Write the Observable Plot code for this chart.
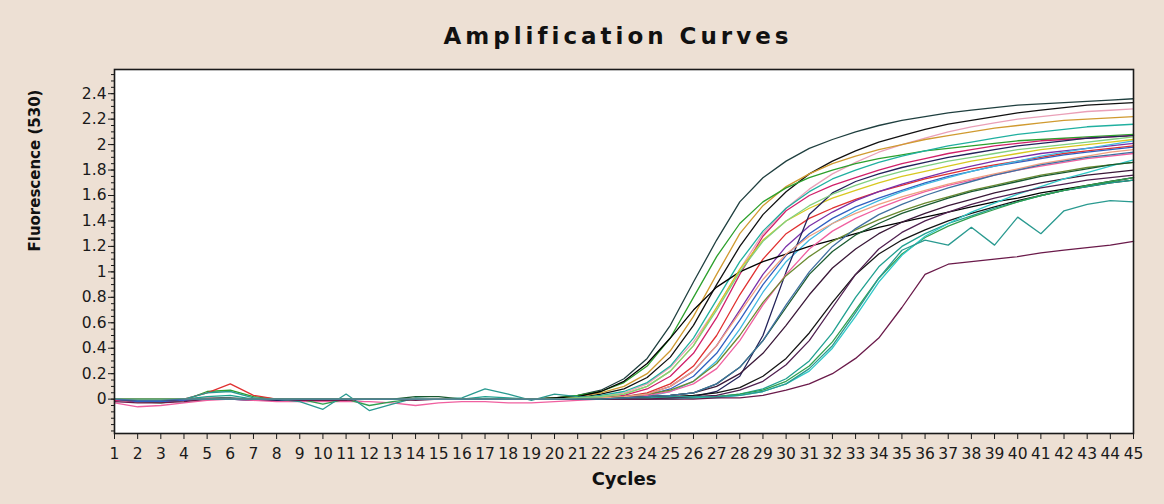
<!DOCTYPE html>
<html><head><meta charset="utf-8">
<script src="https://cdn.jsdelivr.net/npm/d3@7"></script>
<script src="https://cdn.jsdelivr.net/npm/@observablehq/plot@0.6"></script>
<style>
html,body{margin:0;padding:0;background:#ede0d4;width:1164px;height:504px;overflow:hidden;}
#title{height:58px;box-sizing:border-box;padding-top:24px;padding-left:72px;text-align:center;font-family:"DejaVu Sans",sans-serif;font-weight:bold;font-size:23px;line-height:25px;letter-spacing:4px;color:#111;}
#chart svg{display:block;}
</style>
</head><body>
<div id="title">Amplification Curves</div>
<div id="chart"></div>
<script>
const cycles = [1,2,3,4,5,6,7,8,9,10,11,12,13,14,15,16,17,18,19,20,21,22,23,24,25,26,27,28,29,30,31,32,33,34,35,36,37,38,39,40,41,42,43,44,45];
const yTicks = [0,0.2,0.4,0.6,0.8,1,1.2,1.4,1.6,1.8,2,2.2,2.4];
const yTickLabels = ["0","0.2","0.4","0.6","0.8","1","1.2","1.4","1.6","1.8","2","2.2","2.4"];

const s01 = [0,0,-0.01,0,0.01,0.01,0,0,0,0,0,0,0,0,0,0,0,0,0,0.01, 0.03,0.07,0.16,0.32,0.58,0.92,1.25,1.55,1.74,1.87,1.97,2.04,2.10,2.15,2.19,2.22,2.25,2.27,2.29,2.31,2.32,2.33,2.34,2.35,2.36];
const s02 = [0,-0.01,-0.01,0,0,0,0,0,0,0,0,0,0,0,0,0,0,0,0,0, 0.01,0.04,0.08,0.17,0.33,0.58,0.90,1.20,1.45,1.63,1.77,1.87,1.95,2.02,2.07,2.12,2.16,2.19,2.22,2.25,2.27,2.29,2.31,2.32,2.33];
const s03 = [0,0,0,0,0.01,0,0,0,0,0,0,0,0,0,0,0,0,0,0,0, 0.01,0.02,0.05,0.12,0.25,0.45,0.72,1.02,1.30,1.50,1.65,1.77,1.86,1.94,2.00,2.05,2.10,2.14,2.17,2.20,2.22,2.24,2.26,2.27,2.28];
const s04 = [0,0,0,-0.01,0,0,0,0,0,0,0,0,0,0,0,0,0,0,0,0.01, 0.02,0.05,0.10,0.20,0.38,0.65,0.98,1.30,1.52,1.67,1.77,1.85,1.91,1.96,2.00,2.04,2.07,2.10,2.13,2.15,2.17,2.19,2.20,2.21,2.22];
const s05 = [0,-0.02,-0.03,-0.01,0.06,0.07,0.02,0,0,0,0,0,0,0,0,0,0,0,0,0.01, 0.03,0.06,0.13,0.26,0.48,0.80,1.12,1.38,1.55,1.66,1.74,1.80,1.85,1.89,1.92,1.95,1.97,1.99,2.01,2.03,2.04,2.05,2.06,2.07,2.08];
const s06 = [0,0,0,0,0,0,0,0,0,0,0,0,0,0,0,0,0,0,0,0, 0.01,0.03,0.06,0.13,0.26,0.48,0.78,1.08,1.32,1.50,1.63,1.73,1.80,1.86,1.91,1.95,1.99,2.02,2.05,2.08,2.10,2.12,2.14,2.15,2.16];
const s07 = [-0.01,-0.02,-0.02,-0.01,0,0,0,0,0,0,0,0,0,0,0,0,0,0,0,0, 0,0.01,0.03,0.08,0.18,0.36,0.64,0.98,1.28,1.48,1.60,1.68,1.74,1.80,1.85,1.89,1.93,1.96,1.99,2.01,2.03,2.04,2.05,2.06,2.07];
const s08 = [0,-0.01,-0.01,0,0.05,0.12,0.03,0,0,0,0,0,0,0,0,0,0,0,0,0, 0,0.01,0.02,0.05,0.12,0.26,0.50,0.82,1.10,1.30,1.42,1.50,1.57,1.63,1.68,1.73,1.77,1.81,1.84,1.87,1.90,1.93,1.95,1.97,1.99];
const s09 = [0,0,0,0,0,0,0,0,0,0,0,0,0,0,0,0,0,0,0,0, 0,0.01,0.02,0.04,0.10,0.22,0.42,0.70,0.98,1.20,1.36,1.47,1.56,1.63,1.69,1.74,1.79,1.83,1.87,1.90,1.93,1.95,1.97,1.99,2.01];
const s10 = [0,-0.02,-0.02,-0.01,0,0,-0.01,-0.01,-0.01,0,0,0,0,0,0,0,0,0,0,0, 0,0,0.01,0.03,0.08,0.18,0.36,0.62,0.90,1.13,1.30,1.42,1.51,1.58,1.64,1.70,1.75,1.79,1.83,1.86,1.89,1.92,1.94,1.96,1.98];
const s11 = [0,-0.01,0,0,0,0,0,0,0,0,0,0,0,0,0,0,0,0,0,0, 0,0,0.01,0.02,0.06,0.14,0.30,0.55,0.84,1.08,1.25,1.38,1.48,1.56,1.63,1.69,1.74,1.79,1.83,1.87,1.91,1.94,1.97,2.00,2.03];
const s12 = [0,0,0,0,0,0,0,0,0,0,0,0,0,0,0,0,0,0,0,0.01, 0.02,0.06,0.14,0.28,0.48,0.70,0.88,1.00,1.08,1.14,1.20,1.25,1.30,1.35,1.39,1.43,1.47,1.51,1.55,1.58,1.62,1.65,1.68,1.71,1.74];
const s13 = [0,0,0,0,0,0,0,0,0,0,0,0,0,0,0,0,0,0,0,0, 0.01,0.02,0.04,0.10,0.22,0.42,0.72,1.02,1.25,1.40,1.50,1.58,1.64,1.70,1.75,1.79,1.83,1.87,1.90,1.93,1.96,1.98,2.00,2.02,2.04];
const s14 = [0,-0.01,-0.01,0,0,0,-0.01,-0.01,0,0,0,0,0,0,0,0,0,0,0,0, 0,0,0,0,0.01,0.02,0.06,0.18,0.50,1.00,1.45,1.62,1.71,1.77,1.82,1.86,1.90,1.93,1.96,1.99,2.01,2.03,2.05,2.06,2.07];
const s15 = [-0.03,-0.06,-0.05,-0.03,-0.01,0,-0.01,-0.02,-0.02,-0.02,-0.02,-0.02,-0.03,-0.05,-0.03,-0.02,-0.02,-0.03,-0.03,-0.02, -0.01,0,0.01,0.03,0.06,0.12,0.24,0.46,0.74,0.98,1.18,1.32,1.42,1.50,1.57,1.63,1.68,1.72,1.76,1.80,1.83,1.86,1.89,1.91,1.93];
const s16 = [0,0,0,0,0,0,0,0,0,0,0,0,0,0,0,0,0,0,0,0, 0,0.01,0.02,0.04,0.07,0.14,0.28,0.50,0.76,0.97,1.12,1.24,1.33,1.41,1.48,1.54,1.59,1.64,1.68,1.72,1.76,1.79,1.82,1.84,1.86];
const s17 = [0,-0.01,-0.01,0,0,0,0,0,0,0,0,0,0,0,0,0,0,0,0,0, 0,0,0.01,0.02,0.03,0.05,0.10,0.20,0.36,0.58,0.82,1.03,1.18,1.30,1.39,1.46,1.52,1.57,1.62,1.66,1.70,1.73,1.76,1.78,1.80];
const s18 = [0,0,0,0,0,0,0,0,0,0,0,0,0,0,0,0,0,0,0,0, 0,0,0,0.01,0.02,0.03,0.05,0.09,0.18,0.32,0.52,0.76,0.98,1.14,1.25,1.33,1.40,1.46,1.51,1.56,1.60,1.64,1.67,1.70,1.72];
const s19 = [0,0,0,0,0.02,0.03,0,0,0,0,0,0,0,0,0,0,0.02,0.01,0,0, 0,0,0,0,0.01,0.01,0.02,0.04,0.08,0.16,0.30,0.52,0.80,1.04,1.20,1.30,1.38,1.44,1.50,1.55,1.60,1.64,1.67,1.70,1.72];
const s20 = [0,0,0,0,0,0,0,0,0,-0.04,0,-0.05,-0.02,0,0,0,0,0,0,0, 0,0,0,0,0,0.01,0.02,0.04,0.07,0.14,0.26,0.45,0.70,0.95,1.14,1.27,1.36,1.43,1.49,1.55,1.60,1.64,1.68,1.71,1.74];
const s21 = [0,0,0,0,0,0,0,0,0,0,0,0,0,0,0,0,0,0,0,0, 0,0,0,0,0,0.01,0.01,0.03,0.06,0.12,0.22,0.40,0.65,0.92,1.13,1.28,1.38,1.47,1.54,1.61,1.67,1.73,1.78,1.83,1.88];
const s22 = [0,0,0,0,0,0,0,0,0,0,0,0,0,0,0,0,0,0,0,0, 0,0,0,0,0.01,0.02,0.03,0.07,0.14,0.27,0.46,0.72,0.98,1.18,1.31,1.40,1.47,1.53,1.58,1.62,1.66,1.69,1.72,1.74,1.76];
const s23 = [0,0,0,0,0.05,0.06,0.01,0,-0.02,-0.08,0.04,-0.09,-0.04,0.01,0,0.01,0.08,0.04,-0.01,0.04, 0.02,0.01,0.01,0.01,0.02,0.02,0.02,0.03,0.06,0.12,0.24,0.42,0.68,0.95,1.17,1.25,1.21,1.35,1.21,1.43,1.30,1.48,1.53,1.56,1.55];
const s24 = [-0.02,-0.03,-0.03,-0.02,0,0,0,0,-0.01,-0.01,-0.01,0,0,-0.01,0,0,0,0,0,0, 0,0,0,0,0,0,0.01,0.01,0.03,0.07,0.12,0.20,0.32,0.48,0.72,0.98,1.06,1.08,1.10,1.12,1.15,1.17,1.19,1.21,1.24];
const s25 = [0,0,0,0,0,0,0,0,0,0,0,0,0,0,0,0,0,0,0,0, 0,0.01,0.02,0.04,0.10,0.22,0.42,0.68,0.94,1.14,1.28,1.38,1.46,1.53,1.59,1.64,1.69,1.73,1.77,1.81,1.85,1.88,1.91,1.94,1.96];
const s26 = [0,0,0,0,0,0,0,0,0,0,0,0,0,0.02,0.02,0,0,0,0,0, 0,0,0.01,0.02,0.03,0.05,0.12,0.25,0.46,0.72,0.98,1.16,1.29,1.38,1.46,1.52,1.58,1.63,1.67,1.71,1.75,1.78,1.81,1.84,1.86];
const s27 = [0,0,0,0,0,0,0,0,0,0,0,0,0,0,0,0,0,0,0,0, 0.01,0.02,0.04,0.10,0.22,0.42,0.70,1.00,1.24,1.40,1.52,1.61,1.68,1.74,1.79,1.83,1.87,1.90,1.93,1.96,1.98,2.00,2.02,2.04,2.06];
const s28 = [0,-0.01,-0.01,0,0,0,0,0,0,0,0,0,0,0,0,0,0,0,0,0, 0,0,0.01,0.02,0.03,0.05,0.12,0.25,0.46,0.74,1.00,1.20,1.34,1.45,1.53,1.60,1.66,1.71,1.76,1.80,1.84,1.87,1.90,1.92,1.94];

const seriesNames = ["s01","s02","s03","s04","s05","s06","s07","s08","s09","s10","s11","s12","s13","s14","s15","s16","s17","s18","s19","s20","s21","s22","s23","s24","s25","s26","s27","s28"];
const seriesColors = ["#1f3f3f","#111111","#eaa0b8","#d09a30","#2ca02c","#20b0a0","#d0206a","#e03030","#7a30a8","#3060c0","#40b8e0","#000000","#d8c820","#23235a","#f060a0","#6a8a30","#3a1838","#151515","#20a090","#30a050","#30c8c8","#502050","#2a9a90","#6a1a4a","#f0a080","#1a5a30","#80d080","#4070a0"];
const seriesValues = [s01,s02,s03,s04,s05,s06,s07,s08,s09,s10,s11,s12,s13,s14,s15,s16,s17,s18,s19,s20,s21,s22,s23,s24,s25,s26,s27,s28];

const data = [];
seriesValues.forEach((vals, i) => vals.forEach((v, j) => data.push({cycle: cycles[j], value: v, name: seriesNames[i]})));

const yMinor = d3.range(-0.25, 2.56, 0.05).map(v => Math.round(v * 100) / 100);

const chart = Plot.plot({
  width: 1164,
  height: 446,
  marginLeft: 114,
  marginRight: 31,
  marginTop: 11,
  marginBottom: 71,
  style: {background: "transparent", fontFamily: "DejaVu Sans, sans-serif", fontSize: "15.5px", color: "#1a1a1a"},
  x: {domain: [1, 45]},
  y: {domain: [-0.27, 2.59]},
  color: {domain: seriesNames, range: seriesColors},
  marks: [
    Plot.frame({fill: "white", stroke: null}),
    Plot.line(data, {x: "cycle", y: "value", z: "name", stroke: "name", strokeWidth: 1.3}),
    Plot.frame({stroke: "#1a1a1a", strokeWidth: 1.6}),
    Plot.axisY(yMinor, {tickSize: 3, tickFormat: () => "", label: null}),
    Plot.axisY(yTicks, {tickSize: 6, tickPadding: 2, tickFormat: d => yTickLabels[yTicks.indexOf(d)], label: null}),
    Plot.axisX(cycles, {tickSize: 6, tickPadding: 8, tickFormat: d => String(d), label: null}),
    Plot.text(["Fluorescence (530)"], {frameAnchor: "left", dx: -79, rotate: -90, fontWeight: "bold", fontSize: 15, fill: "#111"}),
    Plot.text(["Cycles"], {frameAnchor: "bottom", dy: 51, fontWeight: "bold", fontSize: 18, fill: "#111"})
  ]
});
document.getElementById("chart").appendChild(chart);
</script>
</body></html>
